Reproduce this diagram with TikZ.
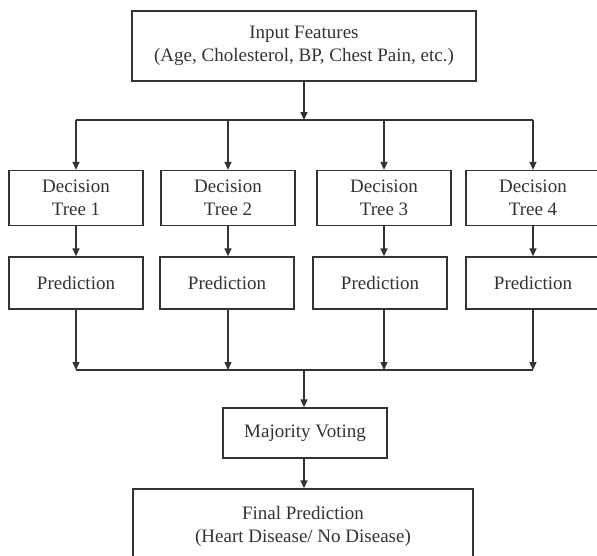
\documentclass[tikz,border=0pt]{standalone}
\usepackage{fontspec}
\setmainfont{Liberation Serif}
\usetikzlibrary{arrows.meta}

\tikzset{
    box/.style={draw=black!80, line width=1.3pt, text=black!80, align=center,
        inner sep=0pt, font=\fontsize{19}{23}\selectfont},
    arr/.style={draw=black!80, line width=1.3pt, -{Triangle[width=7pt,length=8pt]}},
    wire/.style={draw=black!80, line width=1.3pt}
}

\begin{document}
\begin{tikzpicture}[x=1pt, y=-1pt]
    \useasboundingbox (0,0) rectangle (597,555);

    \node[box, minimum width=344pt, minimum height=70pt] (input) at (304,46)
        {Input Features\\(Age, Cholesterol, BP, Chest Pain, etc.)};

    \foreach \i/\x/\p in {1/76/76, 2/228/227, 3/384/380, 4/533/533}
    {
        \node[box, minimum width=134pt, minimum height=55pt] (tree\i) at (\x,198)
            {Decision\\Tree \i};
        \node[box, minimum width=134pt, minimum height=52pt] (pred\i) at (\p,283)
            {Prediction};
    }

    \node[box, minimum width=164pt, minimum height=50pt] (vote) at (305,433)
        {Majority Voting};
    \node[box, minimum width=340pt, minimum height=74pt] (final) at (303,526)
        {Final Prediction\\(Heart Disease/ No Disease)};

    % split to the trees
    \coordinate (split) at (304,120);
    \coordinate (merge) at (304,370);
    \draw[arr] (input.south -| split) -- (split);
    \draw[wire] (tree1.north |- split) -- (tree4.north |- split);
    \foreach \i in {1,...,4}
    {
        \draw[arr] (tree\i.north |- split) -- (tree\i.north);
        \draw[arr] (tree\i.south) -- (tree\i.south |- pred\i.north);
        \draw[arr] (tree\i.south |- pred\i.south) -- (tree\i.south |- merge);
    }

    % merge to the vote
    \draw[wire] (tree1.south |- merge) -- (tree4.south |- merge);
    \draw[arr] (merge) -- (vote.north -| merge);
    \draw[arr] (vote.south -| merge) -- (final.north -| merge);
\end{tikzpicture}
\end{document}
